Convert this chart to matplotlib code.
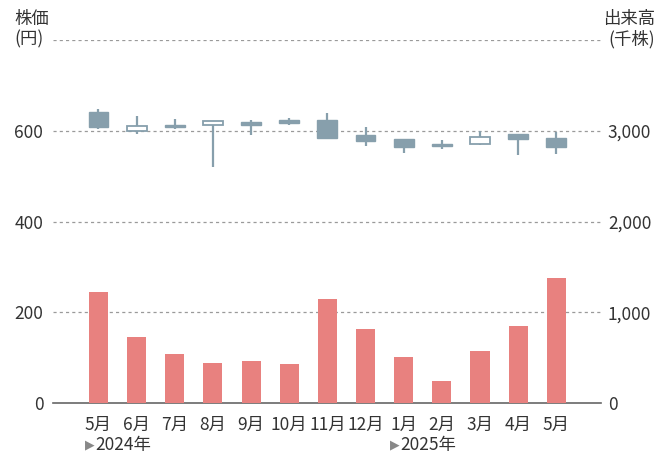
import matplotlib
matplotlib.use("Agg")
import matplotlib.pyplot as plt
import numpy as np

plt.rcParams['font.family'] = ['Noto Sans CJK JP', 'DejaVu Sans']

months = ["5月", "6月", "7月", "8月", "9月", "10月", "11月", "12月", "1月", "2月", "3月", "4月", "5月"]
open_ = [641, 600, 613, 612, 620, 623, 623, 590, 581, 571, 571, 592, 584]
high = [648, 633, 626, 621, 624, 629, 639, 608, 581, 580, 600, 592, 598]
low = [605, 593, 603, 521, 590, 612, 581, 566, 551, 561, 569, 547, 550]
close = [608, 611, 609, 621, 612, 618, 585, 577, 564, 566, 586, 583, 564]
volume = [1223, 729, 542, 443, 465, 432, 1146, 817, 509, 245, 575, 849, 1377]
price_ticks = [0, 200, 400, 600]
vol_ticks = [0, 1000, 2000, 3000]
vol_tick_labels = ["0", "1,000", "2,000", "3,000"]
years = [(0, "2024年"), (8, "2025年")]

candle_col = "#879fac"
bar_col = "#e8817f"
text_col = "#333333"

fig = plt.figure(figsize=(6.57, 4.53), dpi=100)
ax = fig.add_axes([0.0807, 0.1097, 0.834, 0.802])
ax2 = ax.twinx()

x = np.arange(len(months))

# grid lines
for g in [200, 400, 600, 800]:
    ax.axhline(g, color="#9a9a9a", lw=0.9, ls=(0, (2.5, 2.5)), zorder=0)

# volume bars
ax2.bar(x, volume, width=0.5, color=bar_col, zorder=2)

# candlesticks
for i in range(len(months)):
    o, h, l, c = open_[i], high[i], low[i], close[i]
    ax.vlines(x[i], l, h, color=candle_col, lw=1.6, zorder=3)
    bottom = min(o, c)
    height = max(abs(c - o), 1.5)
    if c >= o:
        ax.bar(x[i], height, bottom=bottom, width=0.52, facecolor="white",
               edgecolor=candle_col, lw=1.3, zorder=4)
    else:
        ax.bar(x[i], height, bottom=bottom, width=0.52, facecolor=candle_col,
               edgecolor=candle_col, lw=1.0, zorder=4)

ax.set_xlim(-1.19, 13.17)
ax.set_ylim(0, 800)
ax2.set_ylim(0, 4000)

ax.set_yticks(price_ticks)
ax.set_yticklabels([str(t) for t in price_ticks])
ax2.set_yticks(vol_ticks)
ax2.set_yticklabels(vol_tick_labels)
ax.set_xticks(x)
ax.set_xticklabels(months)

for a in (ax, ax2):
    for s in ["top", "left", "right"]:
        a.spines[s].set_visible(False)
    a.spines["bottom"].set_color("#666666")
    a.spines["bottom"].set_linewidth(1.2)
    a.tick_params(length=0, labelsize=12.5, colors=text_col)
ax.tick_params(axis="y", pad=7)
ax2.tick_params(axis="y", pad=5)
ax.tick_params(axis="x", pad=9)
ax2.spines["bottom"].set_visible(False)

# year labels
for idx, label in years:
    ax.annotate("▶", xy=(idx, 0), xycoords=("data", "axes fraction"),
                xytext=(-6.5, -30), textcoords="offset points",
                ha="center", va="center", fontsize=9, color="#888888",
                family=["DejaVu Sans"])
    ax.annotate(label, xy=(idx, 0), xycoords=("data", "axes fraction"),
                xytext=(-2.5, -30), textcoords="offset points",
                ha="left", va="center", fontsize=12.5, color=text_col)

# axis headers
fig.text(14 / 657, 1 - 19 / 453, "株価", ha="left", va="center", fontsize=12.5, color=text_col)
fig.text(14 / 657, 1 - 39 / 453, "(円)", ha="left", va="center", fontsize=12.5, color=text_col)
fig.text(655 / 657, 1 - 19 / 453, "出来高", ha="right", va="center", fontsize=12.5, color=text_col)
fig.text(655 / 657, 1 - 39 / 453, "(千株)", ha="right", va="center", fontsize=12.5, color=text_col)

fig.savefig("out.png", dpi=100)
